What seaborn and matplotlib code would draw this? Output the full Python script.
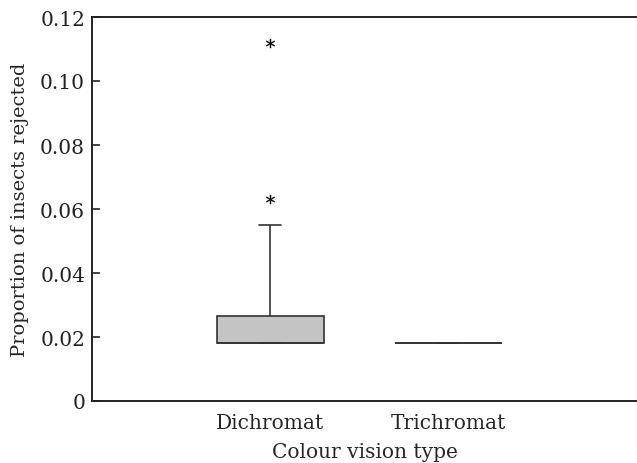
import pandas as pd
import matplotlib
matplotlib.use("Agg")
import matplotlib.pyplot as plt
import seaborn as sns

# Proportion of insects rejected per individual
dichromat = [0.018, 0.018, 0.018, 0.018, 0.018, 0.018, 0.018,
             0.021, 0.024, 0.0266, 0.0551, 0.063, 0.112]
trichromat = [0.018, 0.018, 0.018, 0.018, 0.018, 0.018]
groups = ["Dichromat", "Trichromat"]

df = pd.DataFrame({
    "type": [groups[0]] * len(dichromat) + [groups[1]] * len(trichromat),
    "prop": dichromat + trichromat,
})

sns.set_style("ticks")
plt.rcParams["font.family"] = ["DejaVu Serif"]

fig = plt.figure(figsize=(6.37, 4.64), dpi=100)
ax = fig.add_axes([92 / 637, 62 / 464, 545 / 637, 384 / 464])

sns.boxplot(data=df, x="type", y="prop", order=groups, ax=ax,
            whis=4, width=0.6, color="#c4c4c4", linecolor="#333333",
            linewidth=1.2, capwidths=0.12,
            flierprops=dict(marker="$*$", markersize=6.5,
                            markerfacecolor="black", markeredgecolor="black",
                            markeredgewidth=0.2))

ax.set_xlim(-1.0, 2.06)
ax.set_ylim(0, 0.12)
ax.set_yticks([0, 0.02, 0.04, 0.06, 0.08, 0.10, 0.12])
ax.set_yticklabels(["0", "0.02", "0.04", "0.06", "0.08", "0.10", "0.12"])
ax.set_xlabel("Colour vision type", fontsize=14.5, labelpad=7)
ax.set_ylabel("Proportion of insects rejected", fontsize=14, labelpad=8)
ax.tick_params(axis="y", direction="in", length=6, width=1.2, labelsize=14.5,
               pad=5, colors="#222222")
ax.tick_params(axis="x", length=0, labelsize=14.5, pad=9)
for s in ["left", "bottom", "top"]:
    ax.spines[s].set_linewidth(1.4)
    ax.spines[s].set_color("#222222")
ax.spines["right"].set_visible(False)

fig.savefig("out.png", dpi=100)
